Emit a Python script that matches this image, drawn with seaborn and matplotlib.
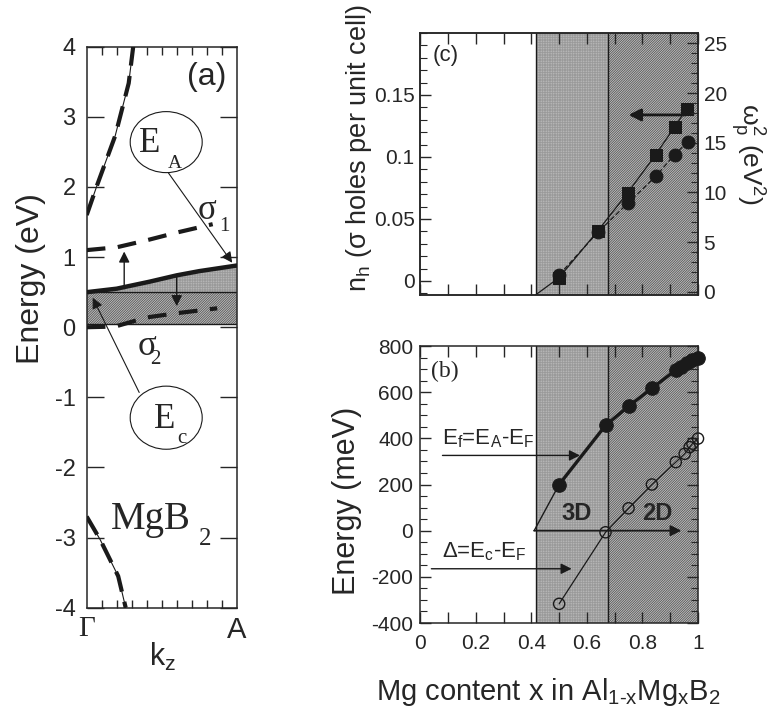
import numpy as np
import pandas as pd
import matplotlib
matplotlib.use("Agg")
import matplotlib.pyplot as plt
import seaborn as sns
from matplotlib.patches import Ellipse
from matplotlib.ticker import MultipleLocator, NullFormatter

# ---------------- data: panel (a) band structure along Gamma-A ----------------
kz_up = [0.0, 0.07, 0.19, 0.28, 0.31]
en_up = [1.6, 2.03, 2.73, 3.48, 4.0]
kz_low = [0.0, 0.09, 0.21, 0.26]
en_low = [-2.7, -3.03, -3.55, -4.0]
kz_s1 = [0.0, 0.2, 0.4, 0.6, 0.84]
en_s1 = [1.1, 1.14, 1.24, 1.35, 1.47]
kz_s2 = [0.0, 0.19, 0.4, 0.6, 0.87]
en_s2 = [0.0, 0.01, 0.14, 0.2, 0.27]
kz_ea = [0.0, 0.2, 0.42, 0.6, 0.75, 1.0]
en_ea = [0.5, 0.55, 0.65, 0.74, 0.8, 0.88]
ec_level = 0.5
ef_level = 0.05
a_xticklabels = ["Γ", "A"]

# ---------------- data: panel (c) ----------------
x_sq = [0.5, 0.64, 0.747, 0.847, 0.916, 0.959]
nh_sq = [0.0027, 0.0406, 0.0712, 0.1016, 0.1244, 0.1387]
x_fit = [0.415, 0.5, 0.64, 0.747, 0.847, 0.916, 0.959]
nh_fit = [-0.0113, 0.0027, 0.0406, 0.0712, 0.1016, 0.1244, 0.1387]
x_ci = [0.5, 0.64, 0.747, 0.847, 0.916, 0.963]
wp2_ci = [1.7, 6.0, 8.9, 11.6, 13.8, 15.1]

# ---------------- data: panel (b) ----------------
x_ef = [0.5, 0.667, 0.75, 0.834, 0.92, 0.94, 0.96, 0.98, 1.0]
ef_vals = [200, 456, 539, 617, 696, 710, 725, 738, 750]
x_ef_line = [0.41, 0.5]
ef_line = [0, 200]
x_del = [0.5, 0.667, 0.75, 0.834, 0.92, 0.952, 0.97, 0.98, 1.0]
del_vals = [-317, -7, 97, 200, 297, 333, 362, 377, 399]
x_3d = 0.415
x_2d = 0.675

sns.set_theme(style="ticks")
plt.rcParams["font.family"] = ["Liberation Sans", "DejaVu Sans"]
plt.rcParams["mathtext.fontset"] = "custom"
plt.rcParams["mathtext.rm"] = "Liberation Sans"
plt.rcParams["mathtext.it"] = "Liberation Sans"
plt.rcParams["mathtext.bf"] = "Liberation Sans:bold"
plt.rcParams["hatch.linewidth"] = 0.5
plt.rcParams["axes.linewidth"] = 1.1
plt.rcParams["axes.unicode_minus"] = False

SERIF = ["Liberation Serif", "DejaVu Serif"]
LIGHT_FC, LIGHT_EC, LIGHT_H = "#c4c4c4", "#9a9a9a", "+" * 10
DARK_FC, DARK_EC, DARK_H = "#bdbdbd", "#4a4a4a", "/" * 14

fig = plt.figure(figsize=(7.7, 7.17), dpi=100)
ax_a = fig.add_axes([0.1126, 0.1524, 0.1948, 0.7824])
ax_c = fig.add_axes([0.5458, 0.5886, 0.3607, 0.3654])
ax_b = fig.add_axes([0.5458, 0.1311, 0.3607, 0.3863])
for ax in (ax_a, ax_b, ax_c):
    ax.set_facecolor("white")

# ======================= panel (a) =======================
ax = ax_a
ax.set_xlim(0, 1)
ax.set_ylim(-4, 4)
ax.fill_between([0, 1], [ef_level, ef_level], [ec_level, ec_level],
                facecolor=DARK_FC, edgecolor=DARK_EC, hatch=DARK_H, lw=0, zorder=1)
ax.fill_between(kz_ea, [ec_level] * len(kz_ea), en_ea,
                facecolor=LIGHT_FC, edgecolor=LIGHT_EC, hatch=LIGHT_H, lw=0, zorder=1)
ax.axhline(ec_level, color="k", lw=1, zorder=2)
ax.axhline(ef_level, color="k", lw=1, zorder=2)

sns.lineplot(x=kz_up, y=en_up, ax=ax, color="k", lw=0.8, sort=False, zorder=3)
sns.lineplot(x=kz_up, y=en_up, ax=ax, color="k", lw=3, sort=False, zorder=3)
ax.lines[-1].set_dashes((5, 2.5))
sns.lineplot(x=kz_low, y=en_low, ax=ax, color="k", lw=0.8, sort=False, zorder=3)
sns.lineplot(x=kz_low, y=en_low, ax=ax, color="k", lw=3, sort=False, zorder=3)
ax.lines[-1].set_dashes((5, 2.5))
sns.lineplot(x=kz_s1, y=en_s1, ax=ax, color="k", lw=3, sort=False, zorder=3)
ax.lines[-1].set_dashes((4.5, 3))
sns.lineplot(x=kz_s2, y=en_s2, ax=ax, color="k", lw=3, sort=False, zorder=3)
ax.lines[-1].set_dashes((4.5, 3))
sns.lineplot(x=kz_ea, y=en_ea, ax=ax, color="k", lw=3.2, sort=False, zorder=4)

arr = dict(arrowstyle="-|>", lw=1, color="k", mutation_scale=16, shrinkA=0, shrinkB=0)
ax.annotate("", xy=(0.25, 1.08), xytext=(0.25, 0.55), arrowprops=arr, zorder=5)
ax.annotate("", xy=(0.6, 0.3), xytext=(0.6, 0.75), arrowprops=arr, zorder=5)
ax.annotate("", xy=(0.97, 0.92), xytext=(0.545, 2.2), arrowprops=dict(arr, lw=0.8), zorder=5)
ax.annotate("", xy=(0.04, 0.42), xytext=(0.35, -0.93), arrowprops=dict(arr, lw=0.8), zorder=5)

ax.add_patch(Ellipse((0.53, 2.64), 0.48, 0.87, fill=False, lw=0.8, color="k", zorder=5))
ax.add_patch(Ellipse((0.53, -1.29), 0.48, 0.9, fill=False, lw=0.8, color="k", zorder=5))
ax.text(0.42, 2.62, "E", family=SERIF, fontsize=25, ha="center", va="center")
ax.text(0.585, 2.33, "A", family=SERIF, fontsize=14, ha="center", va="center")
ax.text(0.52, -1.32, "E", family=SERIF, fontsize=25, ha="center", va="center")
ax.text(0.635, -1.58, "c", family=SERIF, fontsize=15, ha="center", va="center")
ax.text(0.80, 1.67, "σ", family=SERIF, fontsize=25, ha="center", va="center")
ax.text(0.915, 1.43, "1", family=SERIF, fontsize=15, ha="center", va="center")
ax.text(0.40, -0.28, "σ", family=SERIF, fontsize=25, ha="center", va="center")
ax.text(0.455, -0.46, "2", family=SERIF, fontsize=15, ha="center", va="center")
ax.text(0.43, -2.74, "MgB", family=SERIF, fontsize=28, ha="center", va="center")
ax.text(0.79, -3.02, "2", family=SERIF, fontsize=18, ha="center", va="center")
ax.text(0.80, 3.57, "(a)", fontsize=23, ha="center", va="center")

ax.set_yticks(range(-4, 5))
ax.set_xticks([0, 1])
ax.set_xticklabels(a_xticklabels)
ax.xaxis.set_minor_locator(MultipleLocator(0.1))
ax.tick_params(axis="y", which="major", direction="in", left=True, right=True,
               length=12, width=1, labelsize=17, pad=8)
ax.tick_params(axis="x", which="major", length=0, labelsize=21, pad=6)
ax.tick_params(axis="x", which="minor", direction="in", top=True, bottom=True,
               length=6, width=1)
tl = ax.get_xticklabels()
tl[0].set_fontfamily(SERIF)
ax.set_xlabel("")
ax.set_ylabel("")
fig.text(0.2106, 0.0836, "k$_z$", fontsize=22, ha="center", va="center")
fig.text(0.040, 0.612, "Energy (eV)", fontsize=23, rotation=90, ha="center", va="center")

# ======================= panel (c) =======================
ax = ax_c
ax.set_xlim(0, 1)
ax.set_ylim(-0.0113, 0.2)
ax.axvspan(x_3d, x_2d, facecolor=LIGHT_FC, edgecolor=LIGHT_EC, hatch=LIGHT_H, lw=0, zorder=0)
ax.axvspan(x_2d, 1, facecolor=DARK_FC, edgecolor=DARK_EC, hatch=DARK_H, lw=0, zorder=0)
ax.axvline(x_3d, color="k", lw=1, zorder=1)
ax.axvline(x_2d, color="k", lw=1, zorder=1)
sns.lineplot(x=x_fit, y=nh_fit, ax=ax, color="k", lw=0.9, sort=False, zorder=3)
sns.scatterplot(x=x_sq, y=nh_sq, ax=ax, color="k", marker="s", s=85, edgecolor="k",
                zorder=4)
ax.tick_params(axis="both", which="both", direction="in", top=True, bottom=True)
ax.xaxis.set_major_locator(MultipleLocator(0.1))
ax.xaxis.set_major_formatter(NullFormatter())
ax.yaxis.set_minor_locator(MultipleLocator(0.01))
ax.set_yticks([0, 0.05, 0.1, 0.15])
ax.set_yticklabels(["0", "0.05", "0.1", "0.15"])
ax.tick_params(axis="y", which="major", length=8, width=1, labelsize=15, pad=4)
ax.tick_params(axis="y", which="minor", length=5, width=0.8)
ax.tick_params(axis="x", which="major", length=8, width=1)
ax.text(0.09, 0.182, "(c)", fontsize=16, ha="center", va="center")
ax.set_xlabel("")
ax.set_ylabel("")

axr = ax_c.twinx()
axr.set_ylim(-0.33, 26.05)
sns.lineplot(x=x_ci, y=wp2_ci, ax=axr, color="k", lw=0.9, sort=False, zorder=3)
axr.lines[-1].set_dashes((4, 2))
sns.scatterplot(x=x_ci, y=wp2_ci, ax=axr, color="k", marker="o", s=85, edgecolor="k",
                zorder=4)
axr.annotate("", xy=(0.75, 17.8), xytext=(0.955, 17.8),
             arrowprops=dict(arrowstyle="-|>", lw=2, color="k", mutation_scale=18,
                             shrinkA=0, shrinkB=0))
axr.yaxis.set_major_locator(MultipleLocator(5))
axr.yaxis.set_minor_locator(MultipleLocator(1))
axr.tick_params(axis="y", which="major", direction="in", length=8, width=1,
                labelsize=15, pad=4)
axr.tick_params(axis="y", which="minor", direction="in", length=5, width=0.8)
axr.set_ylabel("")
fig.text(0.466, 0.794, "n$_h$ (σ holes per unit cell)", fontsize=19.5, rotation=90,
         ha="center", va="center")
fig.text(0.971, 0.785, r"$\omega_p^2$ (eV$^2$)", fontsize=19, rotation=270,
         ha="center", va="center")

# ======================= panel (b) =======================
ax = ax_b
ax.set_xlim(0, 1)
ax.set_ylim(-400, 800)
ax.axvspan(x_3d, x_2d, facecolor=LIGHT_FC, edgecolor=LIGHT_EC, hatch=LIGHT_H, lw=0, zorder=0)
ax.axvspan(x_2d, 1, facecolor=DARK_FC, edgecolor=DARK_EC, hatch=DARK_H, lw=0, zorder=0)
ax.axvline(x_3d, color="k", lw=1, zorder=1)
ax.axvline(x_2d, color="k", lw=1, zorder=1)
sns.lineplot(x=x_ef_line, y=ef_line, ax=ax, color="k", lw=1, sort=False, zorder=3)
sns.lineplot(x=x_ef, y=ef_vals, ax=ax, color="k", lw=2.4, sort=False, zorder=3)
sns.scatterplot(x=x_ef, y=ef_vals, ax=ax, color="k", marker="o", s=95, edgecolor="k",
                zorder=4, clip_on=False)
sns.lineplot(x=x_del, y=del_vals, ax=ax, color="k", lw=0.9, sort=False, zorder=3)
sns.scatterplot(x=x_del, y=del_vals, ax=ax, marker="o", s=65, facecolor="none",
                edgecolor="k", linewidth=1, zorder=4, clip_on=False)
arrb = dict(arrowstyle="-|>", lw=1, color="k", mutation_scale=16, shrinkA=0, shrinkB=0)
ax.annotate("", xy=(0.94, 0), xytext=(0.41, 0), arrowprops=dict(arrb, lw=1.3))
ax.annotate("", xy=(0.575, 326), xytext=(0.08, 326), arrowprops=arrb)
ax.annotate("", xy=(0.545, -165), xytext=(0.04, -165), arrowprops=arrb)
ax.text(0.08, 400, "E$_f$=E$_A$-E$_F$", fontsize=16, ha="left", va="center")
ax.text(0.08, -92, "Δ=E$_c$-E$_F$", fontsize=16, ha="left", va="center")
ax.text(0.562, 74, "3D", fontsize=17, fontweight="bold", ha="center", va="center")
ax.text(0.855, 76, "2D", fontsize=17, fontweight="bold", ha="center", va="center")
ax.text(0.087, 688, "(b)", family=SERIF, fontsize=17, ha="center", va="center")

ax.xaxis.set_minor_locator(MultipleLocator(0.1))
ax.set_xticks([0, 0.2, 0.4, 0.6, 0.8, 1.0])
ax.set_xticklabels(["0", "0.2", "0.4", "0.6", "0.8", "1"])
ax.yaxis.set_major_locator(MultipleLocator(200))
ax.yaxis.set_minor_locator(MultipleLocator(50))
ax.tick_params(axis="both", which="both", direction="in", top=True, right=True)
ax.tick_params(axis="both", which="major", length=8, width=1, labelsize=15)
ax.tick_params(axis="x", which="major", pad=8)
ax.tick_params(axis="y", which="major", pad=5)
ax.tick_params(axis="x", which="minor", length=8, width=1)
ax.tick_params(axis="y", which="minor", length=5, width=0.8)
ax.set_xlabel("")
ax.set_ylabel("")
fig.text(0.451, 0.302, "Energy (meV)", fontsize=22, rotation=90, ha="center", va="center")
fig.text(0.712, 0.035, r"Mg content x in Al$_{1\text{-}x}$Mg$_x$B$_2$", fontsize=21,
         ha="center", va="center")

fig.savefig("out.png", dpi=100, facecolor="white")
